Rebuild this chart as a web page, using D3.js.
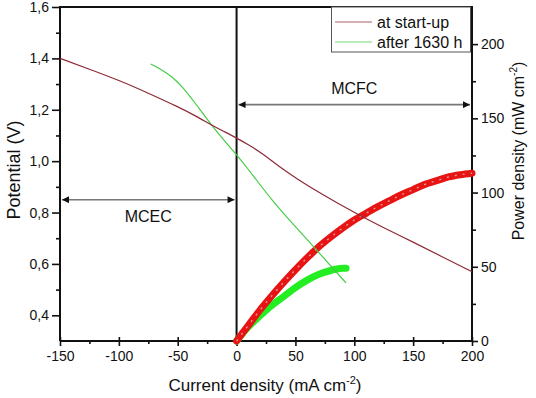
<!DOCTYPE html>
<html lang="en">
<head>
    <meta charset="UTF-8">
    <title>MCFC / MCEC polarization</title>
    <script src="https://cdn.jsdelivr.net/npm/d3@7"></script>
    <style>
        body{ margin:0; background:#fff; }
        text{ font-family: "Liberation Sans", Arial, sans-serif; fill:#111; }
        .tick text{ font-size:14px; }
    </style>
</head>
<body>
<svg width="536" height="398"></svg>
<script>
    // polarization curves (mA cm-2 -> V)
    const startI = [-150, -125, -100, -75, -50, -35, -20, -10, 0, 10, 20, 37, 50, 75, 100, 122, 150, 175, 200];
    const startV = [1.40, 1.358, 1.315, 1.265, 1.212, 1.177, 1.137, 1.114, 1.09, 1.064, 1.036, 0.976, 0.935, 0.864, 0.80, 0.747, 0.685, 0.627, 0.57];
    const agedI = [-73, -65, -55, -45, -35, -20, -10, 0, 10, 20, 30, 45, 60, 75, 93];
    const agedV = [1.378, 1.36, 1.33, 1.285, 1.225, 1.132, 1.078, 1.025, 0.968, 0.908, 0.849, 0.77, 0.695, 0.618, 0.526];
    // power density (mA cm-2 -> mW cm-2)
    const startPI = [0, 10, 20, 30, 40, 50, 60, 70, 80, 90, 100, 110, 120, 130, 140, 150, 160, 170, 180, 190, 200];
    const startP = [0, 10.5, 21, 30.5, 39.5, 48, 56, 63.5, 70, 76, 81.5, 86, 90.5, 94.5, 98.5, 102, 105.5, 108, 110.5, 112, 113];
    const agedPI = [0, 10, 20, 30, 40, 50, 60, 70, 80, 90, 93];
    const agedP = [0, 9.5, 17, 24, 30, 36, 41, 45, 47.5, 49, 49];
    const xTicks = [-150, -100, -50, 0, 50, 100, 150, 200];
    const yTicks = [0.4, 0.6, 0.8, 1.0, 1.2, 1.4, 1.6];
    const pTicks = [0, 50, 100, 150, 200];
    const seriesNames = ["at start-up", "after 1630 h"];

    const svg = d3.select("svg");
    const L = 60, R = 472, T = 7, B = 341;

    const x = d3.scaleLinear().domain([-150, 200]).range([L, R]);
    const y = d3.scaleLinear().domain([0.3, 1.6]).range([B, T]);
    const yp = d3.scaleLinear().domain([0, 225]).range([B, T]);
    const comma = d => d3.format(".1f")(d).replace(".", ",");
    const plain = d => String(d);   // keep ascii hyphen for negatives

    function drawAxis(axis, tr) {
        const g = svg.append("g").attr("transform", tr).call(axis);
        g.select(".domain").remove();
        g.selectAll(".tick line").attr("stroke", "#111").attr("stroke-width", 1.6);
        return g;
    }
    // minor ticks first, then major
    drawAxis(d3.axisBottom(x).tickValues(d3.range(-125, 200, 50)).tickSize(3).tickFormat(""), `translate(0,${B})`);
    const gx = drawAxis(d3.axisBottom(x).tickValues(xTicks).tickSizeInner(5).tickSizeOuter(0).tickPadding(5).tickFormat(plain), `translate(0,${B})`);
    gx.selectAll(".tick line").attr("y1", -4);

    drawAxis(d3.axisLeft(y).tickValues(d3.range(0.5, 1.6, 0.2)).tickSize(4).tickFormat(""), `translate(${L},0)`);
    drawAxis(d3.axisLeft(y).tickValues(yTicks).tickSize(8).tickPadding(3).tickFormat(comma), `translate(${L},0)`);

    drawAxis(d3.axisRight(yp).tickValues([25, 75, 125, 175]).tickSize(4).tickFormat(""), `translate(${R},0)`);
    drawAxis(d3.axisRight(yp).tickValues(pTicks).tickSize(6).tickPadding(3).tickFormat(plain), `translate(${R},0)`);

    // frame
    const frame = svg.append("g").attr("stroke", "#111").attr("stroke-width", 2).attr("fill", "none");
    frame.append("path").attr("d", `M${L},${B}V${T}H${R}V${B}H${L}`);
    frame.append("line").attr("x1", x(0)).attr("x2", x(0)).attr("y1", T).attr("y2", B);

    // power curves
    const lineP = d3.line().x(d => x(d[0])).y(d => yp(d[1])).curve(d3.curveMonotoneX);
    const agedPow = agedPI.map((d, i) => [d, agedP[i]]);
    const startPow = startPI.map((d, i) => [d, startP[i]]);
    svg.append("path").attr("d", lineP(agedPow)).attr("fill", "none")
        .attr("stroke", "#22ee22").attr("stroke-width", 7).attr("stroke-linecap", "round");
    svg.append("path").attr("d", lineP(startPow)).attr("fill", "none")
        .attr("stroke", "#e81414").attr("stroke-width", 7).attr("stroke-linecap", "round");
    svg.append("path").attr("d", lineP(startPow)).attr("fill", "none")
        .attr("stroke", "#d99a9a").attr("stroke-width", 1.4).attr("stroke-dasharray", "2,6");

    // polarization curves
    const lineV = d3.line().x(d => x(d[0])).y(d => y(d[1])).curve(d3.curveBasis);
    const colors = ["#8e2a38", "#44cc44"];
    svg.append("path").attr("d", lineV(agedI.map((d, i) => [d, agedV[i]])))
        .attr("fill", "none").attr("stroke", colors[1]).attr("stroke-width", 1.2);
    svg.append("path").attr("d", lineV(startI.map((d, i) => [d, startV[i]])))
        .attr("fill", "none").attr("stroke", colors[0]).attr("stroke-width", 1.2);

    // arrows
    const defs = svg.append("defs");
    defs.append("marker").attr("id", "ah").attr("viewBox", "0 0 10 10").attr("refX", 10).attr("refY", 5)
        .attr("markerWidth", 9).attr("markerHeight", 7).attr("markerUnits", "userSpaceOnUse")
        .attr("orient", "auto-start-reverse")
        .append("path").attr("d", "M0,0L10,5L0,10z").attr("fill", "#111");
    function arrow(a, b, v, label, ly) {
        svg.append("line").attr("x1", x(a) + 2).attr("x2", x(b) - 2).attr("y1", y(v)).attr("y2", y(v))
            .attr("stroke", "#777").attr("stroke-width", 1.6)
            .attr("marker-start", "url(#ah)").attr("marker-end", "url(#ah)");
        svg.append("text").attr("x", (x(a) + x(b)) / 2).attr("y", ly).attr("text-anchor", "middle")
            .style("font-size", "16px").text(label);
    }
    arrow(0, 200, 1.22, "MCFC", 94);
    arrow(-150, 0, 0.85, "MCEC", 222);

    // legend
    const lg = svg.append("g");
    lg.append("rect").attr("x", 331.5).attr("y", T).attr("width", 139).attr("height", 45)
        .attr("fill", "#fff").attr("stroke", "#555").attr("stroke-width", 1);
    seriesNames.forEach((n, i) => {
        const yy = 22 + i * 20;
        lg.append("line").attr("x1", 335).attr("x2", 372).attr("y1", yy).attr("y2", yy)
            .attr("stroke", colors[i]).attr("stroke-width", 1.2).attr("opacity", 0.75);
        lg.append("text").attr("x", 377).attr("y", yy + 6).style("font-size", "16px").text(n);
    });

    // axis titles
    svg.append("text").attr("transform", "translate(20,170) rotate(-90)").attr("text-anchor", "middle")
        .style("font-size", "18px").text("Potential (V)");
    const xt = svg.append("text").attr("x", 265).attr("y", 391).attr("text-anchor", "middle").style("font-size", "17px");
    xt.append("tspan").text("Current density (mA cm");
    xt.append("tspan").attr("dy", -7).style("font-size", "11px").text("-2");
    xt.append("tspan").attr("dy", 7).text(")");
    const yt = svg.append("text").attr("transform", "translate(524,151) rotate(-90)").attr("text-anchor", "middle").style("font-size", "16px");
    yt.append("tspan").text("Power density (mW cm");
    yt.append("tspan").attr("dy", -7).style("font-size", "10px").text("-2");
    yt.append("tspan").attr("dy", 7).text(")");
</script>
</body>
</html>
